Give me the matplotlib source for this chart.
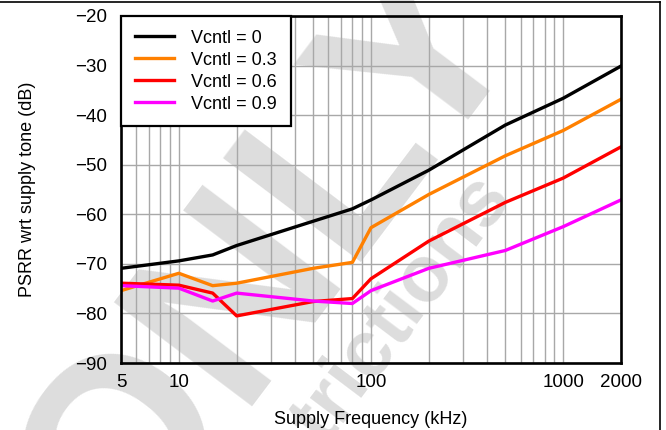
import matplotlib
matplotlib.use("Agg")
import matplotlib.pyplot as plt
from matplotlib.lines import Line2D
from matplotlib.ticker import FixedLocator, FixedFormatter, NullFormatter

plt.rcParams['font.family'] = ['Liberation Sans', 'DejaVu Sans']

# supply frequency points (kHz)
freq = [5, 10, 15, 20, 50, 80, 100, 200, 500, 1000, 2000]

# PSRR (dB) per control voltage
psrr_v0 = [-70.9, -69.4, -68.2, -66.3, -61.4, -58.9, -57.1, -51.1, -42.0, -36.6, -30.1]
psrr_v03 = [-75.4, -71.9, -74.4, -73.9, -70.9, -69.7, -62.7, -56.0, -48.2, -43.1, -36.8]
psrr_v06 = [-73.9, -74.3, -75.9, -80.5, -77.6, -77.0, -73.0, -65.4, -57.6, -52.7, -46.4]
psrr_v09 = [-74.4, -74.9, -77.5, -75.9, -77.5, -78.0, -75.4, -70.9, -67.3, -62.5, -57.1]

labels = ['Vcntl = 0', 'Vcntl = 0.3', 'Vcntl = 0.6', 'Vcntl = 0.9']
colors = ['#000000', '#ff8000', '#ff0000', '#ff00ff']

x_ticks = [5, 10, 100, 1000, 2000]
y_ticks = [-90, -80, -70, -60, -50, -40, -30, -20]

W, H = 666, 430
fig = plt.figure(figsize=(W / 100, H / 100), dpi=100)
ax = fig.add_axes([121 / W, 1 - 363 / H, 500 / W, 347 / H])
ax.patch.set_alpha(0)

# grey diagonal watermark behind the plot
wm = '#dddddd'
fig.text(272 / W, 1 - 258 / H, 'ONLY', fontsize=180, fontweight='bold', color=wm,
         rotation=53, ha='center', va='center', rotation_mode='anchor', zorder=-5)
fig.text(512 / W, 1 - 194 / H, 'Restrictions', fontsize=57, fontweight='bold', color=wm,
         rotation=53, ha='right', va='baseline', rotation_mode='anchor', zorder=-5)

for ys, c, lab in zip([psrr_v0, psrr_v03, psrr_v06, psrr_v09], colors, labels):
    ax.plot(freq, ys, color=c, lw=2.4, label=lab, zorder=3)

ax.set_xscale('log')
ax.set_xlim(5, 2000)
ax.set_ylim(-90, -20)

minor = [m * d for d in (1, 10, 100, 1000) for m in range(2, 10) if 5 < m * d < 2000]
ax.xaxis.set_major_locator(FixedLocator(x_ticks))
ax.xaxis.set_major_formatter(FixedFormatter([str(t) for t in x_ticks]))
ax.xaxis.set_minor_locator(FixedLocator(minor))
ax.xaxis.set_minor_formatter(NullFormatter())
ax.set_yticks(y_ticks)
ax.set_yticklabels([f'\u2212{abs(t)}' for t in y_ticks])

ax.grid(True, which='both', axis='x', color='#a8a8a8', lw=1.0, zorder=1)
ax.grid(True, which='major', axis='y', color='#a8a8a8', lw=1.0, zorder=1)
ax.set_axisbelow(True)

ax.tick_params(which='both', length=0, labelsize=13.5, colors='#000000')
ax.tick_params(axis='x', pad=8)
ax.tick_params(axis='y', pad=10)
for s in ax.spines.values():
    s.set_linewidth(1.9)
    s.set_zorder(4)

ax.set_xlabel('Supply Frequency (kHz)', fontsize=13, labelpad=14)
ax.set_ylabel('PSRR wrt supply tone (dB)', fontsize=13, labelpad=28)

leg = ax.legend(loc='upper left', borderaxespad=0, fontsize=13, fancybox=False,
                framealpha=1, edgecolor='black', handlelength=2.2,
                handletextpad=0.95, labelspacing=0.28, borderpad=0.75)
leg.get_frame().set_linewidth(1.6)
leg.set_zorder(5)

# page border on top and right
fig.add_artist(Line2D([0, 660 / W], [1 - 2 / H, 1 - 2 / H], color='black', lw=1.2,
                      transform=fig.transFigure))
fig.add_artist(Line2D([660 / W, 660 / W], [1 - 2 / H, 0], color='black', lw=1.2,
                      transform=fig.transFigure))

fig.savefig('out.png', dpi=100)
